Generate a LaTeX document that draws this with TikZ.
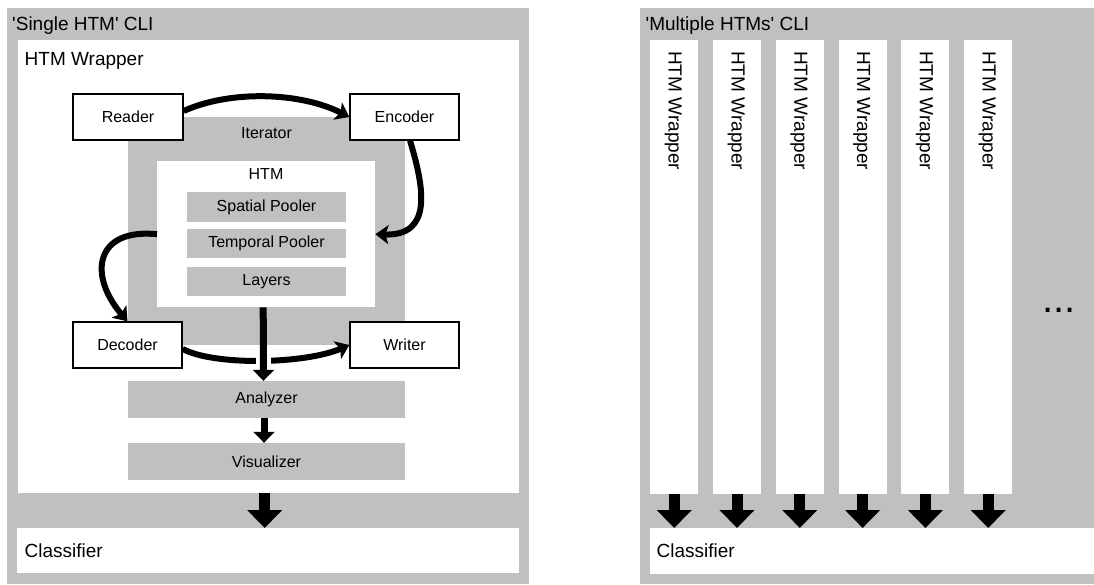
\documentclass[tikz,border=0pt]{standalone}
\usepackage{fontspec}
\setmainfont{Liberation Sans}
\usetikzlibrary{arrows.meta}
\definecolor{cgray}{RGB}{192,192,192}
\tikzset{
  panel/.style={fill=cgray, draw=none, inner sep=0pt, anchor=north west},
  wbox/.style={fill=white, draw=none, inner sep=0pt, anchor=north west},
  gbox/.style={fill=cgray, draw=none, inner sep=0pt, font=\fontsize{16}{19}\selectfont},
  obox/.style={fill=white, draw=black, line width=1.3pt, inner sep=0pt, minimum height=46pt, font=\fontsize{16}{19}\selectfont},
  titletxt/.style={inner sep=0pt, anchor=base west, font=\fontsize{19}{23}\selectfont},
  lbl/.style={inner sep=0pt, font=\fontsize{16}{19}\selectfont},
  flow/.style={line width=6pt, -{Stealth[length=13pt,width=19pt,inset=3pt]}},
  straightarrow/.style={line width=7pt, -{Triangle[length=11pt,width=21pt]}},
  bigarrow/.style={line width=11pt, -{Triangle[length=18pt,width=34pt]}}
}
\begin{document}
\begin{tikzpicture}[x=1pt,y=-1pt]
\useasboundingbox (0,0) rectangle (1094,584);
% ---------- left panel ----------
\node[panel, minimum width=522pt, minimum height=576pt] (cliL) at (7,8) {};
\node[titletxt] (cliLt) at (12,30) {\textquotesingle Single HTM\textquotesingle{} CLI};
\node[wbox, minimum width=501pt, minimum height=453pt] (wrapper) at (18,40) {};
\node[titletxt] (wrapt) at (24.5,65) {HTM Wrapper};
\node[panel, fill=white, minimum width=502pt, minimum height=45pt] (classL) at (17,528) {};
\node[titletxt] (classLt) at (24.5,557) {Classifier};

\node[gbox, minimum width=277pt, minimum height=228pt, anchor=north west] (iterator) at (128,117) {};
\node[lbl] (iteratort) at (266.5,133) {Iterator};
\node[wbox, minimum width=218pt, minimum height=146pt] (htm) at (157,161) {};
\node[lbl] (htmt) at (266,174) {HTM};
\node[gbox, minimum width=159pt, minimum height=30pt] (spatial) at (266.5,207) {Spatial Pooler};
\node[gbox, minimum width=159pt, minimum height=29pt] (temporal) at (266.5,243.5) {Temporal Pooler};
\node[gbox, minimum width=159pt, minimum height=29pt] (layers) at (266.5,281.5) {Layers};

\node[obox, minimum width=110pt] (reader) at (128,117) {Reader};
\node[obox, minimum width=109pt] (encoder) at (404.5,117) {Encoder};
\node[obox, minimum width=109pt] (decoder) at (127.5,345) {Decoder};
\node[obox, minimum width=109pt] (writer) at (404.5,345) {Writer};

\node[gbox, minimum width=277pt, minimum height=37pt] (analyzer) at (266.5,399.5) {Analyzer};
\node[gbox, minimum width=277pt, minimum height=37pt] (visualizer) at (266.5,461.5) {Visualizer};

% arrows
\draw[flow] ([yshift=6pt]reader.east) .. controls (230,90) and (300,92) .. (encoder.west);
\draw[flow] ([xshift=5.5pt]encoder.south) .. controls (425,190) and (432,236) .. (htm.east);
\draw[flow] (htm.west) .. controls (95,228) and (88,275) .. (decoder.north);
\draw[flow] ([yshift=-4pt]decoder.east) .. controls (215,366) and (305,364) .. (writer.west);
\draw[white, line width=15pt] (263,349) -- (263,370);
\draw[straightarrow] ([xshift=-3pt]htm.south) -- ([xshift=-3pt]analyzer.north);
\draw[straightarrow] ([xshift=-2.5pt]analyzer.south) -- ([xshift=-2.5pt]visualizer.north);
\draw[bigarrow] ([xshift=-4pt]wrapper.south) -- ([xshift=-4pt]wrapper.south |- classL.north);

% ---------- right panel ----------
\node[panel, minimum width=454pt, minimum height=576pt] (cliR) at (640,8) {};
\node[titletxt] (cliRt) at (645.5,30) {\textquotesingle Multiple HTMs\textquotesingle{} CLI};
\node[panel, fill=white, minimum width=444pt, minimum height=46pt] (classR) at (650,528) {};
\node[titletxt] (classRt) at (656.5,557) {Classifier};
\foreach \i in {0,...,5} {
  \node[wbox, minimum width=48pt, minimum height=454pt] (col\i) at ({650+62.8*\i},40) {};
  \node[titletxt, rotate=-90] (colt\i) at ([xshift=-5.5pt,yshift=-11pt]col\i.north) {HTM Wrapper};
  \draw[bigarrow] (col\i.south) -- (col\i.south |- classR.north);
}
\node[inner sep=0pt, anchor=base west, font=\fontsize{40}{44}\selectfont] (dots) at (1042.5,312) {...};
\end{tikzpicture}
\end{document}
